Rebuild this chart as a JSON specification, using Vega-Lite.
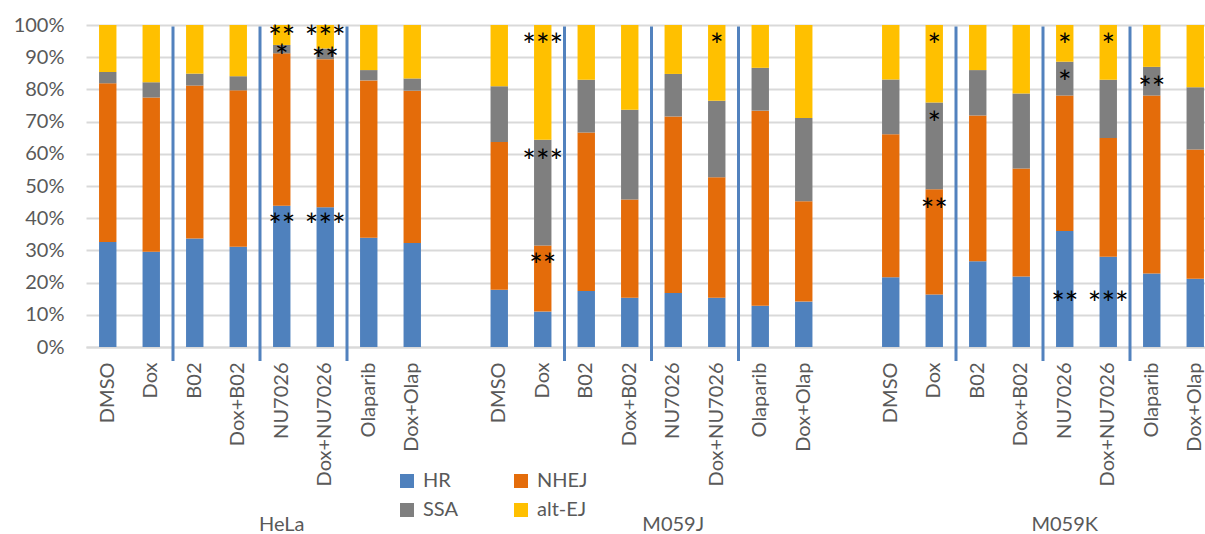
{
  "$schema": "https://vega.github.io/schema/vega-lite/v6.json",
  "autosize": {"type": "none"},
  "padding": {"left": 86, "top": 25, "right": 0, "bottom": 187},
  "width": 1119,
  "height": 322,
  "background": "white",
  "config": {
    "view": {"stroke": null},
    "font": "Lato",
    "axis": {"labelFont": "Lato", "labelColor": "#595959", "titleFont": "Lato", "labelOverlap": false},
    "axisY": {"labelOverlap": false},
    "legend": {"labelFont": "Lato"}
  },
  "datasets": {
    "shares": [
      {"bar": "HeLa/DMSO", "type": "HR", "v": 32.6}, {"bar": "HeLa/DMSO", "type": "NHEJ", "v": 49.3}, {"bar": "HeLa/DMSO", "type": "SSA", "v": 3.5}, {"bar": "HeLa/DMSO", "type": "alt-EJ", "v": 14.6},
      {"bar": "HeLa/Dox", "type": "HR", "v": 29.6}, {"bar": "HeLa/Dox", "type": "NHEJ", "v": 47.9}, {"bar": "HeLa/Dox", "type": "SSA", "v": 4.7}, {"bar": "HeLa/Dox", "type": "alt-EJ", "v": 17.8},
      {"bar": "HeLa/B02", "type": "HR", "v": 33.7}, {"bar": "HeLa/B02", "type": "NHEJ", "v": 47.5}, {"bar": "HeLa/B02", "type": "SSA", "v": 3.7}, {"bar": "HeLa/B02", "type": "alt-EJ", "v": 15.1},
      {"bar": "HeLa/Dox+B02", "type": "HR", "v": 31.1}, {"bar": "HeLa/Dox+B02", "type": "NHEJ", "v": 48.6}, {"bar": "HeLa/Dox+B02", "type": "SSA", "v": 4.4}, {"bar": "HeLa/Dox+B02", "type": "alt-EJ", "v": 15.9},
      {"bar": "HeLa/NU7026", "type": "HR", "v": 43.9}, {"bar": "HeLa/NU7026", "type": "NHEJ", "v": 47.3}, {"bar": "HeLa/NU7026", "type": "SSA", "v": 2.6}, {"bar": "HeLa/NU7026", "type": "alt-EJ", "v": 6.2},
      {"bar": "HeLa/Dox+NU7026", "type": "HR", "v": 43.4}, {"bar": "HeLa/Dox+NU7026", "type": "NHEJ", "v": 46.0}, {"bar": "HeLa/Dox+NU7026", "type": "SSA", "v": 3.3}, {"bar": "HeLa/Dox+NU7026", "type": "alt-EJ", "v": 7.3},
      {"bar": "HeLa/Olaparib", "type": "HR", "v": 33.9}, {"bar": "HeLa/Olaparib", "type": "NHEJ", "v": 48.9}, {"bar": "HeLa/Olaparib", "type": "SSA", "v": 3.2}, {"bar": "HeLa/Olaparib", "type": "alt-EJ", "v": 14.0},
      {"bar": "HeLa/Dox+Olap", "type": "HR", "v": 32.3}, {"bar": "HeLa/Dox+Olap", "type": "NHEJ", "v": 47.3}, {"bar": "HeLa/Dox+Olap", "type": "SSA", "v": 3.8}, {"bar": "HeLa/Dox+Olap", "type": "alt-EJ", "v": 16.6},
      {"bar": "M059J/DMSO", "type": "HR", "v": 17.8}, {"bar": "M059J/DMSO", "type": "NHEJ", "v": 45.9}, {"bar": "M059J/DMSO", "type": "SSA", "v": 17.3}, {"bar": "M059J/DMSO", "type": "alt-EJ", "v": 19.0},
      {"bar": "M059J/Dox", "type": "HR", "v": 11.0}, {"bar": "M059J/Dox", "type": "NHEJ", "v": 20.5}, {"bar": "M059J/Dox", "type": "SSA", "v": 32.9}, {"bar": "M059J/Dox", "type": "alt-EJ", "v": 35.6},
      {"bar": "M059J/B02", "type": "HR", "v": 17.4}, {"bar": "M059J/B02", "type": "NHEJ", "v": 49.2}, {"bar": "M059J/B02", "type": "SSA", "v": 16.4}, {"bar": "M059J/B02", "type": "alt-EJ", "v": 17.0},
      {"bar": "M059J/Dox+B02", "type": "HR", "v": 15.3}, {"bar": "M059J/Dox+B02", "type": "NHEJ", "v": 30.5}, {"bar": "M059J/Dox+B02", "type": "SSA", "v": 27.9}, {"bar": "M059J/Dox+B02", "type": "alt-EJ", "v": 26.3},
      {"bar": "M059J/NU7026", "type": "HR", "v": 16.8}, {"bar": "M059J/NU7026", "type": "NHEJ", "v": 54.8}, {"bar": "M059J/NU7026", "type": "SSA", "v": 13.2}, {"bar": "M059J/NU7026", "type": "alt-EJ", "v": 15.2},
      {"bar": "M059J/Dox+NU7026", "type": "HR", "v": 15.3}, {"bar": "M059J/Dox+NU7026", "type": "NHEJ", "v": 37.4}, {"bar": "M059J/Dox+NU7026", "type": "SSA", "v": 23.8}, {"bar": "M059J/Dox+NU7026", "type": "alt-EJ", "v": 23.5},
      {"bar": "M059J/Olaparib", "type": "HR", "v": 12.8}, {"bar": "M059J/Olaparib", "type": "NHEJ", "v": 60.6}, {"bar": "M059J/Olaparib", "type": "SSA", "v": 13.3}, {"bar": "M059J/Olaparib", "type": "alt-EJ", "v": 13.3},
      {"bar": "M059J/Dox+Olap", "type": "HR", "v": 14.1}, {"bar": "M059J/Dox+Olap", "type": "NHEJ", "v": 31.2}, {"bar": "M059J/Dox+Olap", "type": "SSA", "v": 25.8}, {"bar": "M059J/Dox+Olap", "type": "alt-EJ", "v": 28.9},
      {"bar": "M059K/DMSO", "type": "HR", "v": 21.7}, {"bar": "M059K/DMSO", "type": "NHEJ", "v": 44.4}, {"bar": "M059K/DMSO", "type": "SSA", "v": 17.0}, {"bar": "M059K/DMSO", "type": "alt-EJ", "v": 16.9},
      {"bar": "M059K/Dox", "type": "HR", "v": 16.3}, {"bar": "M059K/Dox", "type": "NHEJ", "v": 32.7}, {"bar": "M059K/Dox", "type": "SSA", "v": 26.9}, {"bar": "M059K/Dox", "type": "alt-EJ", "v": 24.1},
      {"bar": "M059K/B02", "type": "HR", "v": 26.6}, {"bar": "M059K/B02", "type": "NHEJ", "v": 45.3}, {"bar": "M059K/B02", "type": "SSA", "v": 14.1}, {"bar": "M059K/B02", "type": "alt-EJ", "v": 14.0},
      {"bar": "M059K/Dox+B02", "type": "HR", "v": 21.9}, {"bar": "M059K/Dox+B02", "type": "NHEJ", "v": 33.5}, {"bar": "M059K/Dox+B02", "type": "SSA", "v": 23.3}, {"bar": "M059K/Dox+B02", "type": "alt-EJ", "v": 21.3},
      {"bar": "M059K/NU7026", "type": "HR", "v": 36.0}, {"bar": "M059K/NU7026", "type": "NHEJ", "v": 42.1}, {"bar": "M059K/NU7026", "type": "SSA", "v": 10.5}, {"bar": "M059K/NU7026", "type": "alt-EJ", "v": 11.4},
      {"bar": "M059K/Dox+NU7026", "type": "HR", "v": 28.0}, {"bar": "M059K/Dox+NU7026", "type": "NHEJ", "v": 36.9}, {"bar": "M059K/Dox+NU7026", "type": "SSA", "v": 18.1}, {"bar": "M059K/Dox+NU7026", "type": "alt-EJ", "v": 17.0},
      {"bar": "M059K/Olaparib", "type": "HR", "v": 22.8}, {"bar": "M059K/Olaparib", "type": "NHEJ", "v": 55.3}, {"bar": "M059K/Olaparib", "type": "SSA", "v": 8.9}, {"bar": "M059K/Olaparib", "type": "alt-EJ", "v": 13.0},
      {"bar": "M059K/Dox+Olap", "type": "HR", "v": 21.2}, {"bar": "M059K/Dox+Olap", "type": "NHEJ", "v": 40.1}, {"bar": "M059K/Dox+Olap", "type": "SSA", "v": 19.4}, {"bar": "M059K/Dox+Olap", "type": "alt-EJ", "v": 19.3}
    ],
    "separators": [
      {"bar": "HeLa/B02"}, {"bar": "HeLa/NU7026"}, {"bar": "HeLa/Olaparib"},
      {"bar": "M059J/B02"}, {"bar": "M059J/NU7026"}, {"bar": "M059J/Olaparib"},
      {"bar": "M059K/B02"}, {"bar": "M059K/NU7026"}, {"bar": "M059K/Olaparib"}
    ],
    "stars": [
      {"bar": "HeLa/NU7026", "pos": 0.977, "txt": "**"},
      {"bar": "HeLa/NU7026", "pos": 0.919, "txt": "*"},
      {"bar": "HeLa/NU7026", "pos": 0.394, "txt": "**"},
      {"bar": "HeLa/Dox+NU7026", "pos": 0.977, "txt": "***"},
      {"bar": "HeLa/Dox+NU7026", "pos": 0.910, "txt": "**"},
      {"bar": "HeLa/Dox+NU7026", "pos": 0.394, "txt": "***"},
      {"bar": "M059J/Dox", "pos": 0.953, "txt": "***"},
      {"bar": "M059J/Dox", "pos": 0.593, "txt": "***"},
      {"bar": "M059J/Dox", "pos": 0.270, "txt": "**"},
      {"bar": "M059J/Dox+NU7026", "pos": 0.953, "txt": "*"},
      {"bar": "M059K/Dox", "pos": 0.953, "txt": "*"},
      {"bar": "M059K/Dox", "pos": 0.712, "txt": "*"},
      {"bar": "M059K/Dox", "pos": 0.440, "txt": "**"},
      {"bar": "M059K/NU7026", "pos": 0.953, "txt": "*"},
      {"bar": "M059K/NU7026", "pos": 0.839, "txt": "*"},
      {"bar": "M059K/NU7026", "pos": 0.152, "txt": "**"},
      {"bar": "M059K/Dox+NU7026", "pos": 0.953, "txt": "*"},
      {"bar": "M059K/Dox+NU7026", "pos": 0.152, "txt": "***"},
      {"bar": "M059K/Olaparib", "pos": 0.820, "txt": "**"}
    ],
    "groups": [
      {"bar": "HeLa/NU7026", "name": "HeLa"},
      {"bar": "M059J/NU7026", "name": "M059J"},
      {"bar": "M059K/NU7026", "name": "M059K"}
    ]
  },
  "encoding": {
    "x": {
      "field": "bar", "type": "nominal",
      "scale": {
        "domain": ["HeLa/DMSO", "HeLa/Dox", "HeLa/B02", "HeLa/Dox+B02", "HeLa/NU7026", "HeLa/Dox+NU7026", "HeLa/Olaparib", "HeLa/Dox+Olap", "gap1",
                   "M059J/DMSO", "M059J/Dox", "M059J/B02", "M059J/Dox+B02", "M059J/NU7026", "M059J/Dox+NU7026", "M059J/Olaparib", "M059J/Dox+Olap", "gap2",
                   "M059K/DMSO", "M059K/Dox", "M059K/B02", "M059K/Dox+B02", "M059K/NU7026", "M059K/Dox+NU7026", "M059K/Olaparib", "M059K/Dox+Olap", "gap3"],
        "range": [0, 1174.5],
        "paddingInner": 0, "paddingOuter": 0
      },
      "axis": {
        "title": null, "labelAngle": -90, "labelPadding": 15, "ticks": false,
        "labelExpr": "split(datum.value, '/')[1] || ''",
        "labelFontSize": 20, "labelColor": "#595959", "labelOverlap": false, "labelLimit": 0,
        "domainColor": "#D9D9D9", "domainWidth": 2, "grid": false
      }
    }
  },
  "layer": [
    {
      "data": {"name": "shares"},
      "mark": {"type": "bar", "width": {"band": 0.4}},
      "encoding": {
        "y": {
          "field": "v", "type": "quantitative", "stack": "normalize",
          "scale": {"domain": [0, 1], "nice": false},
          "axis": {
            "title": null, "format": ".0%", "values": [0, 0.1, 0.2, 0.3, 0.4, 0.5, 0.6, 0.7, 0.8, 0.9, 1],
            "domain": false, "ticks": false, "labelPadding": 22, "labelFontSize": 20, "labelOverlap": false,
            "gridColor": "#D9D9D9", "gridWidth": 2
          }
        },
        "color": {
          "field": "type", "type": "nominal",
          "scale": {"domain": ["HR", "NHEJ", "SSA", "alt-EJ"], "range": ["#4F81BD", "#E46C0A", "#7F7F7F", "#FFC000"]},
          "legend": {
            "title": null, "orient": "none", "direction": "horizontal", "columns": 2,
            "legendX": 311, "legendY": 446, "symbolType": "square", "symbolSize": 196,
            "symbolStrokeWidth": 0, "labelFontSize": 20, "labelColor": "#595959",
            "gridAlign": "all", "columnPadding": 37, "rowPadding": 9, "labelOffset": 6
          }
        },
        "order": {"field": "type", "sort": "ascending"}
      }
    },
    {
      "data": {"name": "separators"},
      "mark": {"type": "rule", "color": "#5282BE", "strokeWidth": 3},
      "encoding": {
        "x": {"field": "bar", "type": "nominal", "bandPosition": 0},
        "y": {"datum": 0.995, "type": "quantitative",
          "axis": {
            "title": null, "format": ".0%", "values": [0, 0.1, 0.2, 0.3, 0.4, 0.5, 0.6, 0.7, 0.8, 0.9, 1],
            "domain": false, "ticks": false, "labelPadding": 22, "labelFontSize": 20, "labelOverlap": false,
            "gridColor": "#D9D9D9", "gridWidth": 2
          }},
        "y2": {"datum": -0.0435}
      }
    },
    {
      "data": {"name": "stars"},
      "mark": {"type": "text", "font": "Lato", "fontSize": 32, "color": "black", "baseline": "middle", "dy": 7},
      "encoding": {
        "x": {"field": "bar", "type": "nominal"},
        "y": {"field": "pos", "type": "quantitative",
          "axis": {
            "title": null, "format": ".0%", "values": [0, 0.1, 0.2, 0.3, 0.4, 0.5, 0.6, 0.7, 0.8, 0.9, 1],
            "domain": false, "ticks": false, "labelPadding": 22, "labelFontSize": 20, "labelOverlap": false,
            "gridColor": "#D9D9D9", "gridWidth": 2
          }},
        "text": {"field": "txt"}
      }
    },
    {
      "data": {"name": "groups"},
      "mark": {"type": "text", "font": "Lato", "fontSize": 20, "color": "#595959", "baseline": "middle"},
      "encoding": {
        "x": {"field": "bar", "type": "nominal"},
        "y": {"datum": -0.553, "type": "quantitative",
          "axis": {
            "title": null, "format": ".0%", "values": [0, 0.1, 0.2, 0.3, 0.4, 0.5, 0.6, 0.7, 0.8, 0.9, 1],
            "domain": false, "ticks": false, "labelPadding": 22, "labelFontSize": 20, "labelOverlap": false,
            "gridColor": "#D9D9D9", "gridWidth": 2
          }},
        "text": {"field": "name"}
      }
    }
  ]
}
